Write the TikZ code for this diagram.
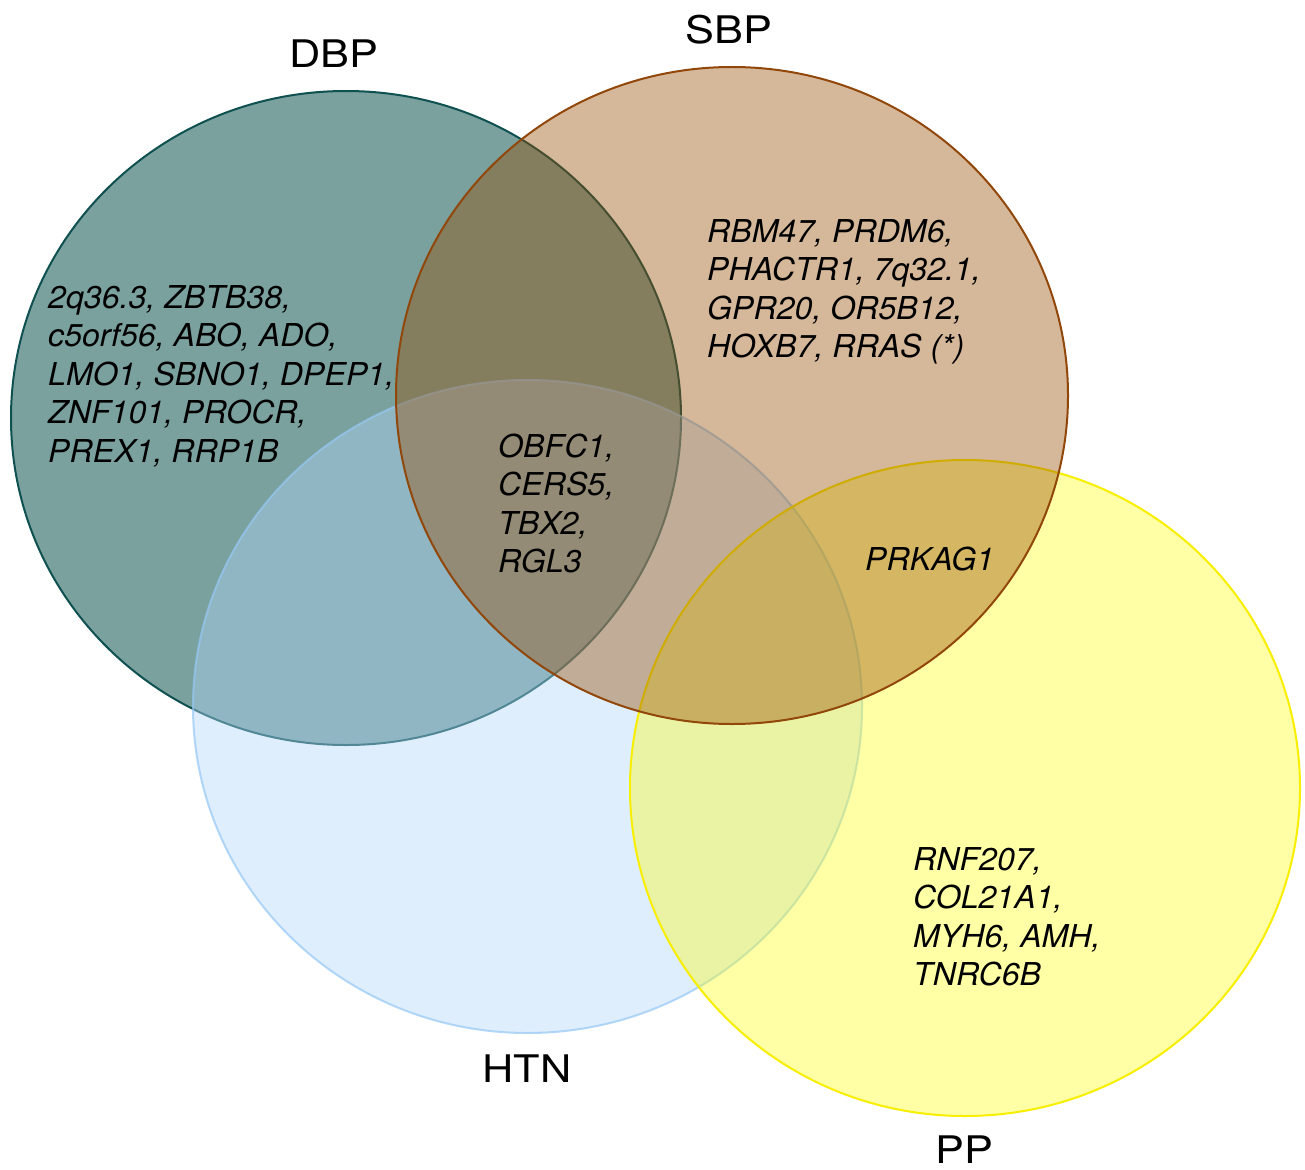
\documentclass[tikz,border=0pt]{standalone}
\usepackage{fontspec}
\setmainfont{TeX Gyre Heros}
\newfontfamily\labelfam[FakeStretch=1.14]{TeX Gyre Heros}
\newfontfamily\genefam[FakeStretch=1.02]{TeX Gyre Heros}
\definecolor{dbpfill}{RGB}{13,84,79}
\definecolor{dbpline}{RGB}{15,80,80}
\definecolor{sbpfill}{RGB}{150,75,0}
\definecolor{sbpline}{RGB}{145,70,10}
\definecolor{htnfill}{RGB}{178,214,250}
\definecolor{htnline}{RGB}{150,200,245}
\definecolor{ppfill}{RGB}{255,255,0}
\definecolor{ppline}{RGB}{248,238,0}
\newcommand\genefont{\genefam\fontsize{31.5}{38.5}\selectfont\itshape}
\newcommand\labelfont{\labelfam\fontsize{38}{44}\selectfont}
\begin{document}
\begin{tikzpicture}[x=1pt,y=-1pt,
  setshape/.style={line width=2pt},
  dbpset/.style={setshape, draw=dbpline, fill=dbpfill, fill opacity=0.55},
  sbpset/.style={setshape, draw=sbpline, fill=sbpfill, fill opacity=0.4},
  htnset/.style={setshape, draw=htnline, draw opacity=0.7, fill=htnfill, fill opacity=0.41},
  ppset/.style={setshape, draw=ppline, fill=ppfill, fill opacity=0.35},
  gene/.style={anchor=base west, inner sep=0pt, font=\genefont},
  setlabel/.style={anchor=base, inner sep=0pt, font=\labelfont}]
\useasboundingbox (0,0) rectangle (1305,1169);
\fill[white] (0,0) rectangle (1305,1169);

\draw[dbpset] (346,418) ellipse [x radius=335pt, y radius=327pt];
\draw[htnset] (527.5,706.5) ellipse [x radius=334.5pt, y radius=326.5pt];
\draw[ppset] (965,788) ellipse [x radius=335pt, y radius=328pt];
\draw[sbpset] (732,395.5) ellipse [x radius=336pt, y radius=328.5pt];

\node[setlabel] (dbplabel) at (334,68) {DBP};
\node[setlabel] (sbplabel) at (729,44) {SBP};
\node[setlabel] (htnlabel) at (527,1082) {HTN};
\node[setlabel] (pplabel) at (964,1163) {PP};

\node[gene] (dbpgenes) at (48,308) {\begin{tabular}[t]{@{}l@{}}2q36.3, ZBTB38,\\ c5orf56, ABO, ADO,\\ LMO1, SBNO1, DPEP1,\\ ZNF101, PROCR,\\ PREX1, RRP1B\end{tabular}};
\node[gene] (sbpgenes) at (707,242) {\begin{tabular}[t]{@{}l@{}}RBM47, PRDM6,\\ PHACTR1, 7q32.1,\\ GPR20, OR5B12,\\ HOXB7, RRAS (*)\end{tabular}};
\node[gene] (coregenes) at (498,457) {\begin{tabular}[t]{@{}l@{}}OBFC1,\\ CERS5,\\ TBX2,\\ RGL3\end{tabular}};
\node[gene] (sbpppgenes) at (865,570) {PRKAG1};
\node[gene] (ppgenes) at (913,870) {\begin{tabular}[t]{@{}l@{}}RNF207,\\ COL21A1,\\ MYH6, AMH,\\ TNRC6B\end{tabular}};
\end{tikzpicture}
\end{document}
